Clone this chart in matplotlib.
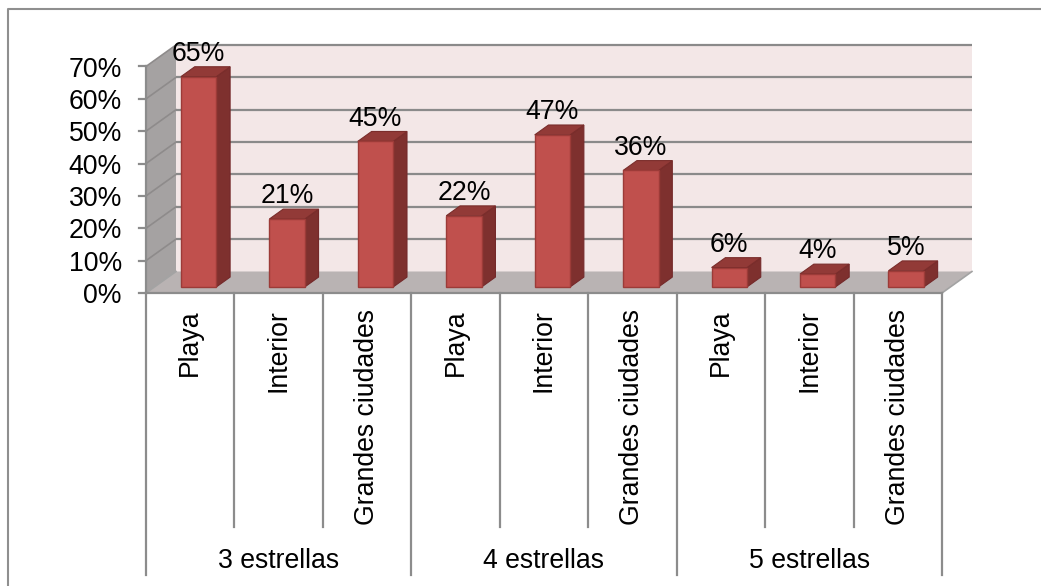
import matplotlib
matplotlib.use("Agg")
import matplotlib.pyplot as plt
from matplotlib.patches import Polygon

# ---- data ----
grupos = ["3 estrellas", "4 estrellas", "5 estrellas"]
destinos = ["Playa", "Interior", "Grandes ciudades"]
valores = [65, 21, 45, 22, 47, 36, 6, 4, 5]   # percent
yticks = [0, 10, 20, 30, 40, 50, 60, 70]

# ---- layout (figure pixels -> data units) ----
W, H = 1041, 586
X0, CW = 146.0, 88.44          # plot left edge, width of one category
Y0, PS = 293.0, 3.236          # zero line, pixels per percent
DXC = 30.0 / CW                # depth offset, categories
DYP = 21.5 / PS                # depth offset, percent
ZF, ZB = 0.28, 0.74            # bar front/back depth fraction
HW = 0.20                      # half bar width (categories)
YMAX = yticks[-1]
n = len(valores)

plt.rcParams["font.family"] = ["Liberation Sans", "DejaVu Sans"]
FS = 19.2

fig = plt.figure(figsize=(W / 100, H / 100), dpi=100)
ax = fig.add_axes([0, 0, 1, 1])
ax.set_xlim(-X0 / CW, (W - X0) / CW)
ax.set_ylim((Y0 - H) / PS, Y0 / PS)
ax.axis("off")


def P(c, p, z=0.0):
    return (c + z * DXC, p + z * DYP)


GRID = "#8a8a8a"
AXC = "#8c8c8c"

# chart border
ax.plot([8 / W, 8 / W, 1], [0, 1 - 8.5 / H, 1 - 8.5 / H], transform=ax.transAxes,
        color="#8f8f8f", lw=1.5, clip_on=False)

# walls and floor
ax.add_patch(Polygon([P(0, 0, 0), P(0, YMAX, 0), P(0, YMAX, 1), P(0, 0, 1)],
                     closed=True, fc="#a5a2a2", ec="none", zorder=1))
ax.add_patch(Polygon([P(0, 0, 1), P(n, 0, 1), P(n, YMAX, 1), P(0, YMAX, 1)],
                     closed=True, fc="#f3e7e7", ec="none", zorder=1))
ax.add_patch(Polygon([P(0, 0, 0), P(n, 0, 0), P(n, 0, 1), P(0, 0, 1)],
                     closed=True, fc="#b9b3b3", ec="none", zorder=2))

# gridlines on back and side walls
for t in yticks[1:]:
    ax.plot(*zip(P(0, t, 1), P(n, t, 1)), color=GRID, lw=1.6, zorder=2,
            solid_capstyle="butt")
    ax.plot(*zip(P(0, t, 0), P(0, t, 1)), color="#8e8b8b", lw=1.2, zorder=2)

# floor edges
ax.plot(*zip(P(n, 0, 0), P(n, 0, 1)), color="#a3a3a3", lw=1.2, zorder=3)
ax.plot(*zip(P(0, 0, 0), P(0, 0, 1)), color="#a3a3a3", lw=1.2, zorder=3)

# value axis
ax.plot(*zip(P(0, 0), P(0, YMAX)), color=AXC, lw=1.6, zorder=4)
for t in yticks:
    ax.plot([-7 / CW, 0], [t, t], color=AXC, lw=1.6, zorder=4)
    ax.text(-24 / CW, t - 3.1, f"{t}%", ha="right", va="baseline", fontsize=FS,
            color="black")

# category axis with two-level labels
ax.plot([0, n], [0, 0], color=AXC, lw=1.6, zorder=4)
inner_bottom = (Y0 - 527) / PS
group_bottom = (Y0 - 575) / PS
for k in range(n + 1):
    bottom = group_bottom if k % len(destinos) == 0 else inner_bottom
    ax.plot([k, k], [0, bottom], color=AXC, lw=1.6, zorder=4)
for i in range(n):
    ax.text(i + 0.5, (Y0 - 309) / PS, destinos[i % len(destinos)], rotation=90,
            ha="center", va="top", fontsize=FS, color="black")
for g, name in enumerate(grupos):
    c = len(destinos) * g + len(destinos) / 2
    ax.text(c, (Y0 - 568) / PS, name, ha="center", va="baseline", fontsize=FS,
            color="black")

# 3-D bars
FRONT, SIDE, TOP, EDGE = "#c0504d", "#7e302e", "#923a37", "#9c3b38"
for i, v in enumerate(valores):
    xl, xr = i + 0.5 - HW, i + 0.5 + HW
    side = [P(xr, 0, ZF), P(xr, v, ZF), P(xr, v, ZB), P(xr, 0, ZB)]
    top = [P(xl, v, ZF), P(xr, v, ZF), P(xr, v, ZB), P(xl, v, ZB)]
    front = [P(xl, 0, ZF), P(xr, 0, ZF), P(xr, v, ZF), P(xl, v, ZF)]
    ax.add_patch(Polygon(side, closed=True, fc=SIDE, ec="#74292a", lw=0.8, zorder=5))
    ax.add_patch(Polygon(top, closed=True, fc=TOP, ec="#7a2d2b", lw=0.8, zorder=5))
    ax.add_patch(Polygon(front, closed=True, fc=FRONT, ec=EDGE, lw=1.0, zorder=6))
    cx, _ = P(i + 0.5, 0, ZF)
    ax.text(cx, v + 6.7, f"{v}%", ha="center", va="baseline", fontsize=FS,
            color="black", zorder=7)

fig.savefig("out.png", dpi=100, facecolor="white")
